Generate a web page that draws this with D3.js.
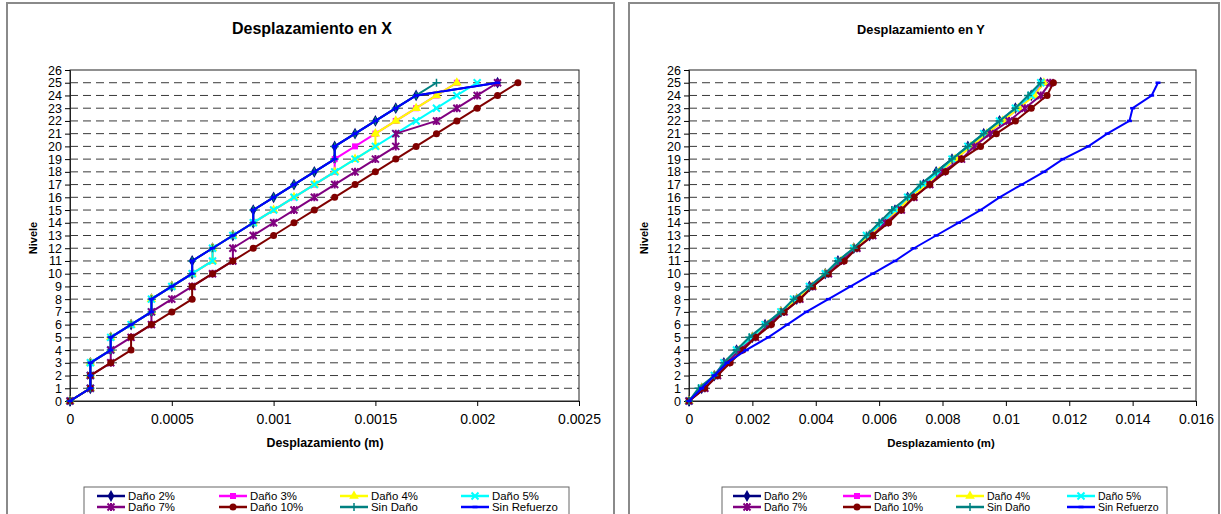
<!DOCTYPE html>
<html>
<head>
<meta charset="utf-8">
<script src="https://cdn.jsdelivr.net/npm/d3@7"></script>
<style>
  body { margin: 0; background: #fff; }
  svg { display: block; font-family: Arial, "Liberation Sans", sans-serif; }
</style>
</head>
<body>
<svg id="chart" width="1221" height="514"></svg>
<script>
// niveles y valores
var niveles = [0,1,2,3,4,5,6,7,8,9,10,11,12,13,14,15,16,17,18,19,20,21,22,23,24,25];
var nivelTicks = [0,1,2,3,4,5,6,7,8,9,10,11,12,13,14,15,16,17,18,19,20,21,22,23,24,25,26];
var series = ["Daño 2%", "Daño 3%", "Daño 4%", "Daño 5%", "Daño 7%", "Daño 10%", "Sin Daño", "Sin Refuerzo"];

// Desplazamiento en X
var danio2X  = [0,0.0001,0.0001,0.0001,0.0002,0.0002,0.0003,0.0004,0.0004,0.0005,0.0006,0.0006,0.0007,0.0008,0.0009,0.0009,0.001,0.0011,0.0012,0.0013,0.0013,0.0014,0.0015,0.0016,0.0017,0.0021];
var danio3X  = [0,0.0001,0.0001,0.0001,0.0002,0.0002,0.0003,0.0004,0.0004,0.0005,0.0006,0.0007,0.0007,0.0008,0.0009,0.001,0.0011,0.0012,0.0013,0.0013,0.0014,0.0015,0.0016,0.0017,0.0018,0.0019];
var danio4X  = [0,0.0001,0.0001,0.0001,0.0002,0.0002,0.0003,0.0004,0.0004,0.0005,0.0006,0.0007,0.0007,0.0008,0.0009,0.001,0.0011,0.0012,0.0013,0.0014,0.0015,0.0015,0.0016,0.0017,0.0018,0.0019];
var danio5X  = [0,0.0001,0.0001,0.0001,0.0002,0.0002,0.0003,0.0004,0.0004,0.0005,0.0006,0.0007,0.0007,0.0008,0.0009,0.001,0.0011,0.0012,0.0013,0.0014,0.0015,0.0016,0.0017,0.0018,0.0019,0.002];
var danio7X  = [0,0.0001,0.0001,0.0002,0.0002,0.0003,0.0004,0.0004,0.0005,0.0006,0.0007,0.0008,0.0008,0.0009,0.001,0.0011,0.0012,0.0013,0.0014,0.0015,0.0016,0.0016,0.0018,0.0019,0.002,0.0021];
var danio10X = [0,0.0001,0.0001,0.0002,0.0003,0.0003,0.0004,0.0005,0.0006,0.0006,0.0007,0.0008,0.0009,0.001,0.0011,0.0012,0.0013,0.0014,0.0015,0.0016,0.0017,0.0018,0.0019,0.002,0.0021,0.0022];
var sinDanioX = [0,0.0001,0.0001,0.0001,0.0002,0.0002,0.0003,0.0004,0.0004,0.0005,0.0006,0.0006,0.0007,0.0008,0.0009,0.0009,0.001,0.0011,0.0012,0.0013,0.0013,0.0014,0.0015,0.0016,0.0017,0.0018];
var sinRefX  = [0,0.0001,0.0001,0.0001,0.0002,0.0002,0.0003,0.0004,0.0004,0.0005,0.0006,0.0006,0.0007,0.0008,0.0009,0.0009,0.001,0.0011,0.0012,0.0013,0.0013,0.0014,0.0015,0.0016,0.0017,0.0021];
var ticksX = [0, 0.0005, 0.001, 0.0015, 0.002, 0.0025];

// Desplazamiento en Y
var danio2Y  = [0,0.0004,0.0008,0.0011,0.0015,0.002,0.0024,0.0029,0.0034,0.0038,0.0043,0.0047,0.0052,0.0057,0.0061,0.0065,0.0069,0.0074,0.0078,0.0083,0.0088,0.0093,0.0098,0.0103,0.0108,0.0111];
var danio3Y  = [0,0.0004,0.0008,0.0011,0.0016,0.002,0.0025,0.0029,0.0034,0.0038,0.0043,0.0048,0.0052,0.0057,0.0061,0.0066,0.007,0.0074,0.0079,0.0084,0.0089,0.0094,0.0099,0.0104,0.0108,0.0112];
var danio4Y  = [0,0.0004,0.0008,0.0012,0.0016,0.002,0.0025,0.0029,0.0034,0.0039,0.0043,0.0048,0.0052,0.0057,0.0062,0.0066,0.007,0.0075,0.0079,0.0084,0.0089,0.0094,0.0099,0.0104,0.0109,0.0112];
var danio5Y  = [0,0.0004,0.0008,0.0011,0.0015,0.002,0.0024,0.0029,0.0033,0.0038,0.0043,0.0047,0.0052,0.0056,0.0061,0.0065,0.0069,0.0074,0.0079,0.0083,0.0088,0.0093,0.0098,0.0103,0.0108,0.0111];
var danio7Y  = [0,0.0005,0.0009,0.0012,0.0016,0.0021,0.0025,0.003,0.0035,0.0039,0.0044,0.0048,0.0053,0.0058,0.0062,0.0067,0.0071,0.0076,0.008,0.0086,0.009,0.0095,0.0101,0.0106,0.0111,0.0114];
var danio10Y = [0,0.0005,0.0009,0.0013,0.0017,0.0021,0.0026,0.003,0.0035,0.0039,0.0044,0.0049,0.0053,0.0058,0.0063,0.0067,0.0071,0.0076,0.0081,0.0086,0.0092,0.0097,0.0103,0.0108,0.0113,0.0115];
var sinDanioY = [0,0.0003,0.0008,0.0011,0.0015,0.0019,0.0024,0.0029,0.0033,0.0038,0.0043,0.0047,0.0052,0.0056,0.006,0.0064,0.0069,0.0073,0.0078,0.0083,0.0088,0.0093,0.0098,0.0103,0.0107,0.0111];
var sinRefY  = [0,0.0004,0.0008,0.0012,0.0018,0.0025,0.0031,0.0037,0.0044,0.0051,0.0058,0.0065,0.0071,0.0078,0.0085,0.0092,0.0098,0.0105,0.0112,0.0118,0.0126,0.0132,0.0139,0.014,0.0146,0.0148];
var ticksY = [0, 0.002, 0.004, 0.006, 0.008, 0.01, 0.012, 0.014, 0.016];

var colores = ["#000080", "#ff00ff", "#ffff00", "#00ffff", "#800080", "#800000", "#008080", "#0000ff"];
var marcas = ["diamond", "square", "triangle", "x", "star", "circle", "plus", "dash"];

var svg = d3.select("#chart");

function marker(g, tipo, color) {
  if (tipo == "diamond") {
    g.append("path").attr("d", d3.symbol(d3.symbolDiamond, 40)()).attr("fill", color);
  } else if (tipo == "square") {
    g.append("path").attr("d", d3.symbol(d3.symbolSquare, 36)()).attr("fill", color);
  } else if (tipo == "triangle") {
    g.append("path").attr("d", d3.symbol(d3.symbolTriangle, 40)()).attr("fill", color);
  } else if (tipo == "circle") {
    g.append("circle").attr("r", 3.5).attr("fill", color);
  } else if (tipo == "x") {
    g.append("path").attr("d", "M-3.5,-3.5L3.5,3.5M-3.5,3.5L3.5,-3.5").attr("stroke", color).attr("stroke-width", 2);
  } else if (tipo == "star") {
    g.append("path").attr("d", "M-3.5,-3.5L3.5,3.5M-3.5,3.5L3.5,-3.5M0,-4V4").attr("stroke", color).attr("stroke-width", 2);
  } else if (tipo == "plus") {
    g.append("path").attr("d", "M-4,0H4M0,-4V4").attr("stroke", color).attr("stroke-width", 1.5);
  } else {
    g.append("path").attr("d", "M-2.5,0H2.5").attr("stroke", color).attr("stroke-width", 2.5);
  }
}

function dibujar(cfg) {
  // marco del grafico
  svg.append("rect")
    .attr("x", cfg.box[0]).attr("y", cfg.box[1])
    .attr("width", cfg.box[2]).attr("height", cfg.box[3])
    .attr("fill", "#fff").attr("stroke", "#8a8a8a").attr("stroke-width", 2);

  svg.append("text")
    .attr("x", cfg.tituloX).attr("y", 34)
    .attr("text-anchor", "middle")
    .style("font-weight", "bold").style("font-size", cfg.tituloSize + "px")
    .text(cfg.titulo);

  var x = d3.scaleLinear().domain([cfg.ticks[0], cfg.ticks[cfg.ticks.length - 1]]).range([cfg.left, cfg.right]);
  var y = d3.scaleLinear().domain([0, 26]).range([401, 70]);

  var g = svg.append("g");

  // lineas de division
  g.selectAll(".grid")
    .data(nivelTicks.slice(1, 26))
    .enter().append("line")
    .attr("x1", cfg.left).attr("x2", cfg.right)
    .attr("y1", function(d) { return y(d); })
    .attr("y2", function(d) { return y(d); })
    .attr("stroke", "#3a3a3a").attr("stroke-width", 1)
    .attr("stroke-dasharray", "8,5");

  g.append("rect")
    .attr("x", cfg.left).attr("y", y(26))
    .attr("width", cfg.right - cfg.left).attr("height", y(0) - y(26))
    .attr("fill", "none").attr("stroke", "#222").attr("stroke-width", 1);

  var ax = g.append("g")
    .attr("transform", "translate(0,401)")
    .call(d3.axisBottom(x).tickValues(cfg.ticks).tickFormat(function(d) { return String(d); }).tickSize(5).tickPadding(8));
  ax.selectAll("text").style("font-size", "14px").attr("fill", "#000");

  var ay = g.append("g")
    .attr("transform", "translate(" + cfg.left + ",0)")
    .call(d3.axisLeft(y).tickValues(nivelTicks).tickFormat(d3.format("d")).tickSize(5).tickPadding(3));
  ay.selectAll("text").style("font-size", "12.5px").attr("fill", "#000");
  ax.select(".domain").attr("stroke", "#222");
  ay.select(".domain").attr("stroke", "#222");

  svg.append("text")
    .attr("x", cfg.ejeX).attr("y", 447)
    .attr("text-anchor", "middle")
    .style("font-weight", "bold").style("font-size", cfg.ejeSize + "px")
    .text("Desplazamiento (m)");

  svg.append("text")
    .attr("transform", "translate(" + cfg.nivX + ",238) rotate(-90)")
    .attr("text-anchor", "middle")
    .style("font-weight", "bold").style("font-size", "11px")
    .text("Nivele");

  var linea = d3.line()
    .x(function(d) { return x(d[0]); })
    .y(function(d) { return y(d[1]); });

  cfg.datos.forEach(function(vals, i) {
    var pts = vals.map(function(v, j) { return [v, niveles[j]]; });
    g.append("path")
      .attr("d", linea(pts))
      .attr("fill", "none")
      .attr("stroke", colores[i])
      .attr("stroke-width", 2);
    g.selectAll(".m" + i)
      .data(pts)
      .enter().append("g")
      .attr("transform", function(d) { return "translate(" + x(d[0]) + "," + y(d[1]) + ")"; })
      .each(function() { marker(d3.select(this), marcas[i], colores[i]); });
  });

  // leyenda
  svg.append("rect")
    .attr("x", cfg.ley[0]).attr("y", 487)
    .attr("width", cfg.ley[1] - cfg.ley[0]).attr("height", 40)
    .attr("fill", "#fff").attr("stroke", "#666").attr("stroke-width", 1);

  series.forEach(function(s, i) {
    var cx = cfg.leyCols[i % 4];
    var cy = i < 4 ? 496 : 507;
    var it = svg.append("g").attr("transform", "translate(" + cx + "," + cy + ")");
    it.append("line").attr("x1", 0).attr("x2", 28).attr("stroke", colores[i]).attr("stroke-width", 2.5);
    marker(it.append("g").attr("transform", "translate(14,0)"), marcas[i], colores[i]);
    it.append("text")
      .attr("x", 31).attr("dy", "0.35em")
      .style("font-size", cfg.leySize + "px")
      .text(s);
  });
}

dibujar({
  box: [7, 3, 607, 520],
  titulo: "Desplazamiento en X", tituloX: 312, tituloSize: 16,
  left: 70, right: 579, ticks: ticksX,
  ejeX: 325, ejeSize: 12.4, nivX: 37,
  datos: [danio2X, danio3X, danio4X, danio5X, danio7X, danio10X, sinDanioX, sinRefX],
  ley: [84, 569], leyCols: [97, 219, 340, 461], leySize: 11.4
});

dibujar({
  box: [629, 3, 590, 520],
  titulo: "Desplazamiento en Y", tituloX: 921, tituloSize: 12.8,
  left: 689, right: 1196, ticks: ticksY,
  ejeX: 941, ejeSize: 11.4, nivX: 648,
  datos: [danio2Y, danio3Y, danio4Y, danio5Y, danio7Y, danio10Y, sinDanioY, sinRefY],
  ley: [722, 1167], leyCols: [733, 843, 956, 1067], leySize: 10.5
});
</script>
</body>
</html>
